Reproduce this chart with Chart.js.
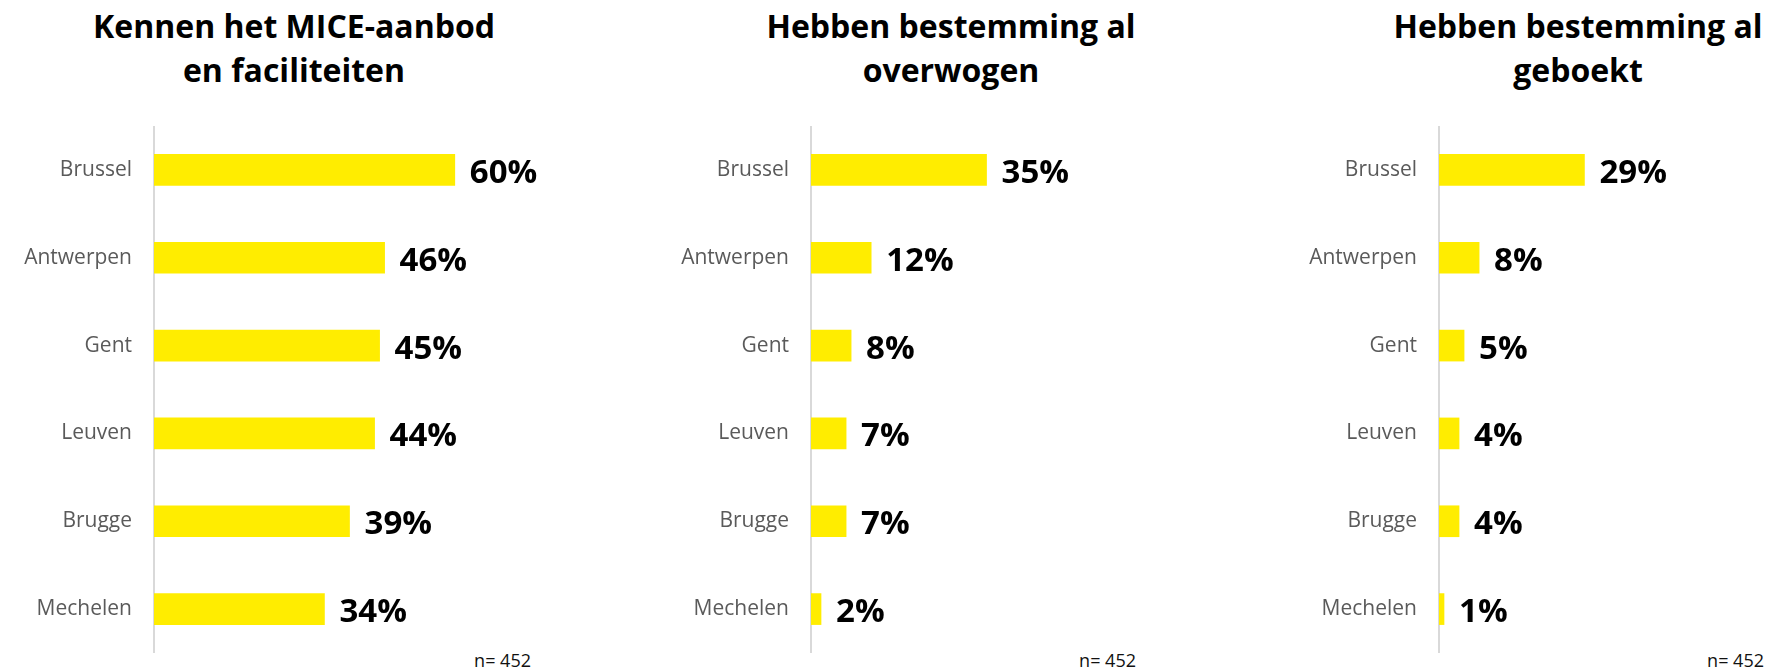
<!DOCTYPE html>
<html>
<head>
<meta charset="utf-8">
<script src="https://cdn.jsdelivr.net/npm/chart.js@4"></script>
<style>
    html, body { margin: 0; padding: 0; background: #fff; overflow: hidden; }
    body { width: 1769px; height: 670px; position: relative; font-family: "Open Sans", sans-serif; }
    .panel-title {
        position: absolute; top: 4px; width: 600px; text-align: center;
        font-size: 32px; font-weight: 700; line-height: 44px; color: #000;
    }
    .sample-size {
        position: absolute; top: 649px; width: 200px; text-align: right;
        font-size: 18px; line-height: 22px; color: #111;
    }
    .chart-box { position: absolute; top: 126px; }
    .chart-box canvas { display: block; }
</style>
</head>
<body>
<div id="panels"></div>
<script>
// Survey results per city
const cities = ['Brussel', 'Antwerpen', 'Gent', 'Leuven', 'Brugge', 'Mechelen'];
const kennen = [60, 46, 45, 44, 39, 34];
const overwogen = [35, 12, 8, 7, 7, 2];
const geboekt = [29, 8, 5, 4, 4, 1];
const titles = [
    ['Kennen het MICE-aanbod', 'en faciliteiten'],
    ['Hebben bestemming al', 'overwogen'],
    ['Hebben bestemming al', 'geboekt']
];
const sampleLabel = 'n= 452';

// Layout per panel: canvas left, y-axis width, plot width, x max, right padding, title centre
const panels = [
    { values: kennen,    left: 0,    axisWidth: 154, plotWidth: 376, xMax: 75, padRight: 60, titleX: 294, nRight: 531 },
    { values: overwogen, left: 600,  axisWidth: 211, plotWidth: 326, xMax: 65, padRight: 60, titleX: 951, nRight: 1136 },
    { values: geboekt,   left: 1240, axisWidth: 199, plotWidth: 326, xMax: 65, padRight: 4,  titleX: 1578, nRight: 1764 }
];
const CHART_HEIGHT = 527;
const YELLOW = '#FFED00';

// Draws the bold percentage next to every bar
const valueLabels = {
    id: 'valueLabels',
    afterDatasetsDraw(chart) {
        const ctx = chart.ctx;
        const meta = chart.getDatasetMeta(0);
        const data = chart.data.datasets[0].data;
        ctx.save();
        ctx.font = '700 33px "Open Sans", sans-serif';
        ctx.fillStyle = '#000';
        ctx.textAlign = 'left';
        ctx.textBaseline = 'alphabetic';
        meta.data.forEach((bar, i) => {
            ctx.fillText(data[i] + '%', bar.x + 15, bar.y + 13);
        });
        ctx.restore();
    }
};

const container = document.getElementById('panels');

panels.forEach((p, idx) => {
    const title = document.createElement('div');
    title.className = 'panel-title';
    title.style.left = (p.titleX - 300) + 'px';
    title.innerHTML = titles[idx].join('<br>');
    container.appendChild(title);

    const n = document.createElement('div');
    n.className = 'sample-size';
    n.style.left = (p.nRight - 200) + 'px';
    n.textContent = sampleLabel;
    container.appendChild(n);

    const width = p.axisWidth + p.plotWidth + p.padRight;
    const box = document.createElement('div');
    box.className = 'chart-box';
    box.style.left = p.left + 'px';
    const canvas = document.createElement('canvas');
    canvas.width = width;
    canvas.height = CHART_HEIGHT;
    canvas.style.width = width + 'px';
    canvas.style.height = CHART_HEIGHT + 'px';
    box.appendChild(canvas);
    container.appendChild(box);

    new Chart(canvas.getContext('2d'), {
        type: 'bar',
        data: {
            labels: cities,
            datasets: [{
                data: p.values,
                backgroundColor: YELLOW,
                borderWidth: 0,
                barThickness: 31
            }]
        },
        options: {
            indexAxis: 'y',
            responsive: false,
            animation: false,
            layout: {
                autoPadding: false,
                padding: { top: 0, bottom: 0, left: 0, right: p.padRight }
            },
            plugins: {
                legend: { display: false },
                tooltip: { enabled: false },
                title: { display: false }
            },
            scales: {
                x: {
                    display: false,
                    min: 0,
                    max: p.xMax
                },
                y: {
                    grid: { display: false, drawTicks: false },
                    border: { display: true, color: '#d9d9d9', width: 2 },
                    ticks: {
                        color: '#5a5a5a',
                        padding: 22,
                        font: { family: '"Open Sans", sans-serif', size: 21 }
                    },
                    afterFit(scale) {
                        // fixed label column, and the axis runs the full height
                        scale.width = p.axisWidth;
                        scale.paddingTop = 0;
                        scale.paddingBottom = 0;
                    }
                }
            }
        },
        plugins: [valueLabels]
    });
});
</script>
</body>
</html>
